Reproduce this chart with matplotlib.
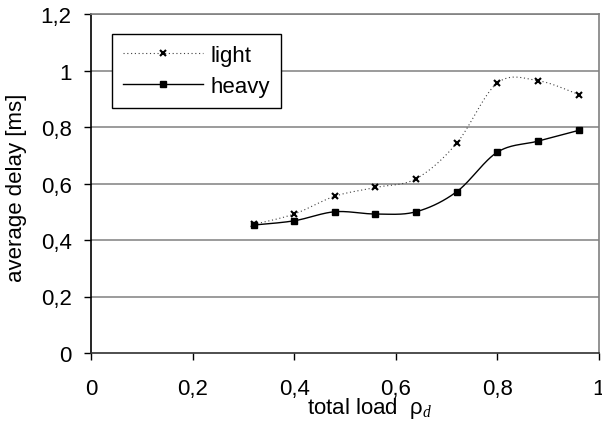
import numpy as np
import matplotlib
matplotlib.use("Agg")
import matplotlib.pyplot as plt
from matplotlib.lines import Line2D
from matplotlib.ticker import FuncFormatter

plt.rcParams['font.family'] = ['Liberation Sans', 'DejaVu Sans']
plt.rcParams['mathtext.fontset'] = 'custom'
plt.rcParams['mathtext.it'] = 'Liberation Serif:italic'
plt.rcParams['mathtext.rm'] = 'Liberation Serif'

# data
load = [0.32, 0.40, 0.48, 0.56, 0.64, 0.72, 0.80, 0.88, 0.96]
light = [0.455, 0.492, 0.555, 0.586, 0.617, 0.743, 0.956, 0.964, 0.915]
heavy = [0.453, 0.468, 0.500, 0.492, 0.500, 0.571, 0.711, 0.750, 0.788]
yticks = [0, 0.2, 0.4, 0.6, 0.8, 1.0, 1.2]
xticks = [0, 0.2, 0.4, 0.6, 0.8, 1.0]


def smooth(xs, ys, n=30):
    # spreadsheet-style smoothed line (cubic bezier, catmull-rom tangents)
    p = np.column_stack([xs, ys])
    p = np.vstack([p[0], p, p[-1]])
    out = []
    for i in range(1, len(p) - 2):
        p0, p1, p2, p3 = p[i - 1], p[i], p[i + 1], p[i + 2]
        c1 = p1 + (p2 - p0) / 6
        c2 = p2 - (p3 - p1) / 6
        t = np.linspace(0, 1, n)[:, None]
        seg = ((1 - t) ** 3 * p1 + 3 * (1 - t) ** 2 * t * c1
               + 3 * (1 - t) * t ** 2 * c2 + t ** 3 * p2)
        out.append(seg if i == 1 else seg[1:])
    out = np.vstack(out)
    return out[:, 0], out[:, 1]


fig = plt.figure(figsize=(6.02, 4.31), dpi=100)
ax = fig.add_axes([91 / 602, 1 - 354 / 431, 508 / 602, 339 / 431])

grid_c = '#808080'
for y in yticks[1:]:
    ax.axhline(y, color=grid_c, lw=1.1, zorder=1)

light_style = dict(color='#404040', lw=0.8, linestyle=(0, (1, 2.4)))
heavy_style = dict(color='black', lw=1.0)

sx, sy = smooth(load, light)
ax.plot(sx, sy, zorder=3, **light_style)
ax.plot(load, light, linestyle='none', marker='x', ms=3.8, mew=1.5,
        color='black', zorder=4)

hx, hy = smooth(load, heavy)
ax.plot(hx, hy, zorder=3, **heavy_style)
ax.plot(load, heavy, linestyle='none', marker='s', ms=5, color='black',
        zorder=5)

ax.set_xlim(0, 1)
ax.set_ylim(0, 1.2)
ax.set_xticks(xticks)
ax.set_yticks(yticks)
fmt = FuncFormatter(lambda v, pos: ('%g' % round(v, 1)).replace('.', ','))
ax.xaxis.set_major_formatter(fmt)
ax.yaxis.set_major_formatter(fmt)
ax.tick_params(axis='both', direction='out', length=5, width=1,
               labelsize=16, colors='black')
ax.tick_params(axis='x', pad=13)
ax.tick_params(axis='y', pad=9)

ax.spines['left'].set_color('black')
ax.spines['bottom'].set_color('#303030')
ax.spines['top'].set_color(grid_c)
ax.spines['right'].set_color(grid_c)
for s in ax.spines.values():
    s.set_linewidth(1.2)

ax.set_ylabel('average delay [ms]', fontsize=16)
ax.yaxis.set_label_coords(-64 / 508, 0.49)
fig.text(307 / 602, 1 - 414 / 431, r'total load  ρ$_{d}$', fontsize=16,
         ha='left', va='baseline')

handles = [
    Line2D([], [], marker='x', ms=3.8, mew=1.5, markeredgecolor='black',
           **light_style),
    Line2D([], [], marker='s', ms=5, markerfacecolor='black',
           markeredgecolor='black', **heavy_style),
]
leg = ax.legend(handles, ['light', 'heavy'], loc='upper left',
                bbox_to_anchor=(21 / 508, 1 - 20 / 339), fontsize=16,
                handlelength=3.6, handletextpad=0.32, borderpad=0.5,
                labelspacing=0.45, fancybox=False, framealpha=1,
                borderaxespad=0)
leg.get_frame().set_edgecolor('black')
leg.get_frame().set_linewidth(1.0)
leg.set_zorder(6)

fig.savefig('out.png', dpi=100)
